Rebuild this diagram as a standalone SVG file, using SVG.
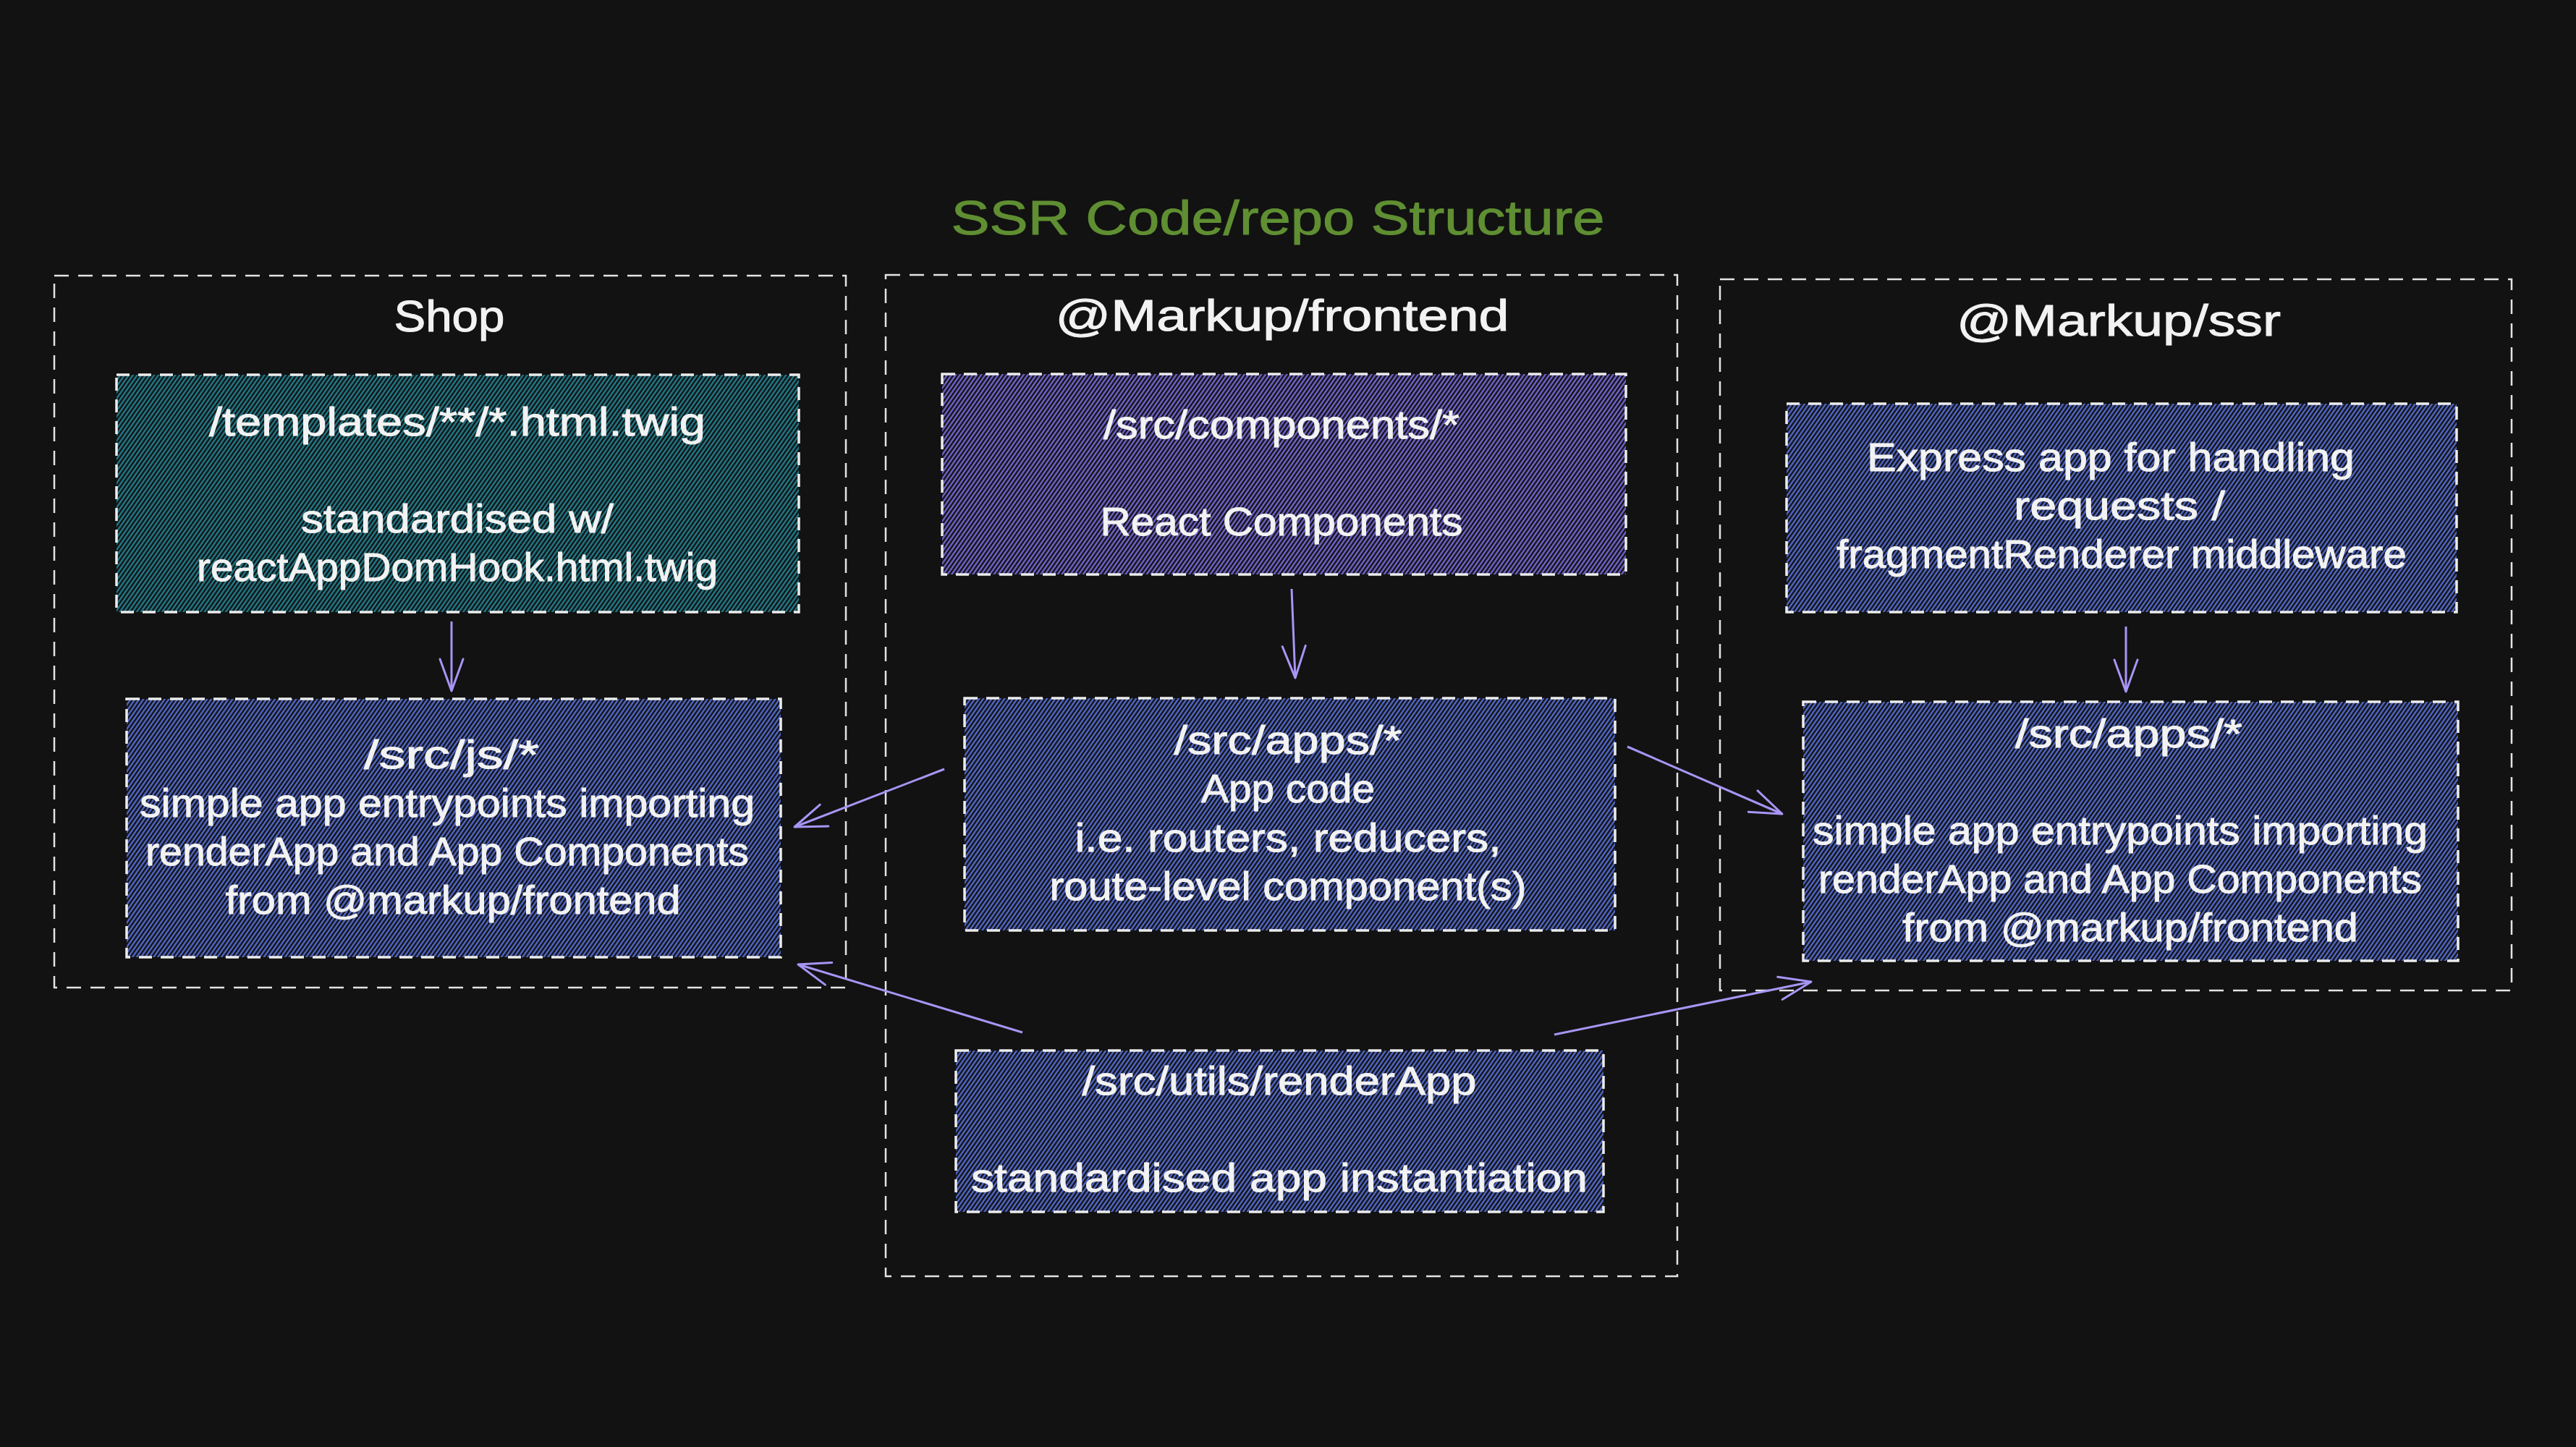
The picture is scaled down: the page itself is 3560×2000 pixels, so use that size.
<svg xmlns="http://www.w3.org/2000/svg" width="3560" height="2000" viewBox="0 0 3560 2000">
<defs>
<style>
.bg{fill:#121212}
.container rect{fill:none;stroke:#e4e4e4;stroke-width:2.5;stroke-dasharray:20 13}
.node rect{stroke:#ececec;stroke-width:3.5;stroke-dasharray:18 12}
.t{font-family:"Liberation Sans",Arial,sans-serif;fill:#f2f2f2;text-anchor:middle;stroke:#f2f2f2;stroke-width:1}
.nt{font-size:56px}
.ct{font-size:62px}
.title{font-size:66px;fill:#5f8f32;stroke:#5f8f32}
.conn path{stroke:#a895f5;stroke-width:3;fill:none;marker-end:url(#ah)}
.hl{stroke-width:2.1}
</style>
<pattern id="hTeal" patternUnits="userSpaceOnUse" width="20" height="9.6" patternTransform="rotate(-55)">
<line class="hl" x1="0" y1="1.5" x2="20" y2="1.5" stroke="#23899a"/>
<line class="hl" x1="0" y1="6.3" x2="20" y2="6.3" stroke="#23899a"/>
</pattern>
<pattern id="hPurple" patternUnits="userSpaceOnUse" width="20" height="9.6" patternTransform="rotate(-55)">
<line class="hl" x1="0" y1="1.5" x2="20" y2="1.5" stroke="#7f6fe6"/>
<line class="hl" x1="0" y1="6.3" x2="20" y2="6.3" stroke="#7f6fe6"/>
</pattern>
<pattern id="hBlue" patternUnits="userSpaceOnUse" width="20" height="9.6" patternTransform="rotate(-55)">
<line class="hl" x1="0" y1="1.5" x2="20" y2="1.5" stroke="#5b74e2"/>
<line class="hl" x1="0" y1="6.3" x2="20" y2="6.3" stroke="#5b74e2"/>
</pattern>
<marker id="ah" viewBox="-50 -25 55 50" refX="0" refY="0" markerWidth="55" markerHeight="50" markerUnits="userSpaceOnUse" orient="auto" overflow="visible">
<path d="M -44 -16 L 0 0 L -44 16" fill="none" stroke="#a895f5" stroke-width="3" stroke-linecap="round" stroke-linejoin="round"/>
</marker>
</defs>
<rect class="bg" x="0" y="0" width="3560" height="2000"/>

<text id="title" class="t title" x="1766" y="324" textLength="903" lengthAdjust="spacingAndGlyphs">SSR Code/repo Structure</text>

<g id="shop" class="container">
<rect x="75" y="381" width="1094" height="984"/>
<text class="t ct" x="621" y="458" textLength="153" lengthAdjust="spacingAndGlyphs">Shop</text>
</g>
<g id="frontend" class="container">
<rect x="1224" y="380" width="1094" height="1384"/>
<text class="t ct" x="1772" y="457" textLength="627" lengthAdjust="spacingAndGlyphs">@Markup/frontend</text>
</g>
<g id="ssr" class="container">
<rect x="2377" y="386" width="1094" height="983"/>
<text class="t ct" x="2928" y="464" textLength="448" lengthAdjust="spacingAndGlyphs">@Markup/ssr</text>
</g>

<g id="shop-templates" class="node">
<rect x="161" y="518" width="943" height="328" fill="url(#hTeal)"/>
<text class="t nt" x="632" y="602" textLength="686" lengthAdjust="spacingAndGlyphs">/templates/**/*.html.twig</text>
<text class="t nt" x="632" y="736" textLength="432" lengthAdjust="spacingAndGlyphs">standardised w/</text>
<text class="t nt" x="632" y="803" textLength="720" lengthAdjust="spacingAndGlyphs">reactAppDomHook.html.twig</text>
</g>

<g id="shop-js" class="node">
<rect x="175" y="966" width="904" height="357" fill="url(#hBlue)"/>
<text class="t nt" x="624" y="1062" textLength="242" lengthAdjust="spacingAndGlyphs">/src/js/*</text>
<text class="t nt" x="618" y="1129" textLength="850" lengthAdjust="spacingAndGlyphs">simple app entrypoints importing</text>
<text class="t nt" x="618" y="1196" textLength="834" lengthAdjust="spacingAndGlyphs">renderApp and App Components</text>
<text class="t nt" x="626" y="1263" textLength="629" lengthAdjust="spacingAndGlyphs">from @markup/frontend</text>
</g>

<g id="fe-components" class="node">
<rect x="1302" y="517" width="945" height="277" fill="url(#hPurple)"/>
<text class="t nt" x="1771" y="606" textLength="492" lengthAdjust="spacingAndGlyphs">/src/components/*</text>
<text class="t nt" x="1771" y="740" textLength="501" lengthAdjust="spacingAndGlyphs">React Components</text>
</g>

<g id="fe-apps" class="node">
<rect x="1333" y="965" width="899" height="321" fill="url(#hBlue)"/>
<text class="t nt" x="1780" y="1042" textLength="315" lengthAdjust="spacingAndGlyphs">/src/apps/*</text>
<text class="t nt" x="1780" y="1109" textLength="240" lengthAdjust="spacingAndGlyphs">App code</text>
<text class="t nt" x="1780" y="1177" textLength="589" lengthAdjust="spacingAndGlyphs">i.e. routers, reducers,</text>
<text class="t nt" x="1780" y="1244" textLength="659" lengthAdjust="spacingAndGlyphs">route-level component(s)</text>
</g>

<g id="fe-renderapp" class="node">
<rect x="1321" y="1452" width="895" height="223" fill="url(#hBlue)"/>
<text class="t nt" x="1768" y="1513" textLength="545" lengthAdjust="spacingAndGlyphs">/src/utils/renderApp</text>
<text class="t nt" x="1768" y="1647" textLength="852" lengthAdjust="spacingAndGlyphs">standardised app instantiation</text>
</g>

<g id="ssr-express" class="node">
<rect x="2469" y="558" width="926" height="288" fill="url(#hBlue)"/>
<text class="t nt" x="2917" y="651" textLength="674" lengthAdjust="spacingAndGlyphs">Express app for handling</text>
<text class="t nt" x="2929" y="718" textLength="292" lengthAdjust="spacingAndGlyphs">requests /</text>
<text class="t nt" x="2932" y="785" textLength="788" lengthAdjust="spacingAndGlyphs">fragmentRenderer middleware</text>
</g>

<g id="ssr-apps" class="node">
<rect x="2492" y="970" width="905" height="358" fill="url(#hBlue)"/>
<text class="t nt" x="2942" y="1033" textLength="314" lengthAdjust="spacingAndGlyphs">/src/apps/*</text>
<text class="t nt" x="2930" y="1167" textLength="850" lengthAdjust="spacingAndGlyphs">simple app entrypoints importing</text>
<text class="t nt" x="2930" y="1234" textLength="834" lengthAdjust="spacingAndGlyphs">renderApp and App Components</text>
<text class="t nt" x="2944" y="1301" textLength="630" lengthAdjust="spacingAndGlyphs">from @markup/frontend</text>
</g>

<g id="connectors" class="conn">
<path d="M 624 859 L 624 955"/>
<path d="M 1785 814 L 1790 937"/>
<path d="M 2938 866 L 2938 956"/>
<path d="M 1305 1063 L 1098 1143"/>
<path d="M 2249 1032 L 2463 1125"/>
<path d="M 1413 1427 L 1103 1333"/>
<path d="M 2148 1430 L 2503 1357"/>
</g>
</svg>
